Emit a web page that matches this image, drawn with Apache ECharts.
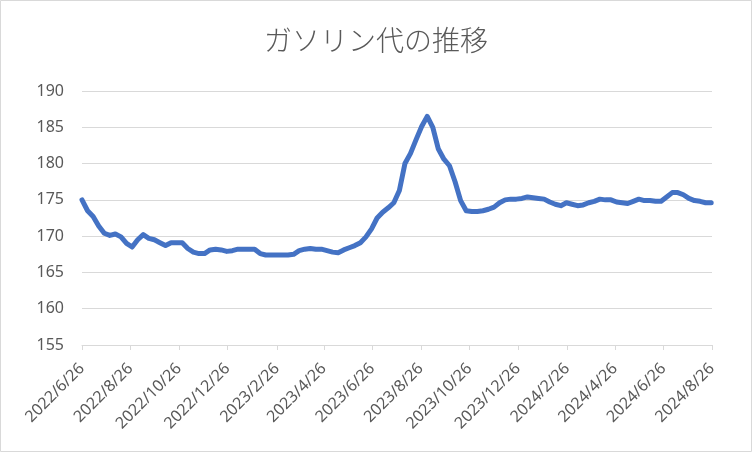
<!DOCTYPE html>
<html>
<head>
<meta charset="utf-8">
<script src="https://cdn.jsdelivr.net/npm/echarts@6/dist/echarts.min.js"></script>
<style>
html,body{margin:0;padding:0;background:#fff;}
#chart{width:752px;height:452px;}
</style>
</head>
<body>
<div id="chart"></div>
<script>
const titleText = "ガソリン代の推移";
const startDate = "2022/6/26";
const endDate = "2024/8/26";
const stepDays = 7;
const yTicks = [155, 160, 165, 170, 175, 180, 185, 190];
const prices = [
  175.0, 173.5, 172.7, 171.4, 170.4, 170.1, 170.3, 169.9, 169.0, 168.5,
  169.5, 170.2, 169.7, 169.5, 169.1, 168.7, 169.1, 169.1, 169.1, 168.3,
  167.8, 167.6, 167.6, 168.1, 168.2, 168.1, 167.9, 168.0, 168.2, 168.2,
  168.2, 168.2, 167.6, 167.4, 167.4, 167.4, 167.4, 167.4, 167.5, 168.0,
  168.2, 168.3, 168.2, 168.2, 168.0, 167.8, 167.7, 168.1, 168.4, 168.7,
  169.1, 169.9, 171.0, 172.5, 173.3, 173.9, 174.6, 176.3, 180.0, 181.4,
  183.3, 185.1, 186.5, 185.0, 182.0, 180.6, 179.7, 177.5, 174.9, 173.5,
  173.4, 173.4, 173.5, 173.7, 174.0, 174.6, 175.0, 175.1, 175.1, 175.2,
  175.4, 175.3, 175.2, 175.1, 174.7, 174.4, 174.2, 174.6, 174.4, 174.2,
  174.3, 174.6, 174.8, 175.1, 175.0, 175.0, 174.7, 174.6, 174.5, 174.8,
  175.1, 174.9, 174.9, 174.8, 174.8, 175.4, 176.0, 176.0, 175.7, 175.2,
  174.9, 174.8, 174.6, 174.6
];

function parseD(s){ const [y,m,d]=s.split('/').map(Number); return Date.UTC(y,m-1,d); }
function fmt(t){ const d=new Date(t); return d.getUTCFullYear()+'/'+(d.getUTCMonth()+1)+'/'+d.getUTCDate(); }

// daily category axis (date axis)
const days = [];
for (let t = parseD(startDate); t <= parseD(endDate); t += 86400000) days.push(fmt(t));

const [sy, sm] = startDate.split('/').map(Number);
function isMajor(idx, val){
  const [y,m,d] = val.split('/').map(Number);
  return d === 26 && ((y*12+m) - (sy*12+sm)) % 2 === 0;
}

const seriesData = prices.map((v,i)=>[i*stepDays, v]);

const chart = echarts.init(document.getElementById('chart'), null, {renderer:'canvas'});
chart.setOption({
  backgroundColor:'#fff',
  animation:false,
  title:{
    text:titleText, left:'center', top:21,
    textStyle:{fontFamily:'"Noto Sans CJK JP"', fontSize:28, fontWeight:300, color:'#595959'}
  },
  grid:{left:82, right:40, top:91, bottom:107, containLabel:false},
  xAxis:{
    type:'category', data:days, boundaryGap:false,
    axisLine:{lineStyle:{color:'#D9D9D9', width:1}},
    axisTick:{show:true, interval:isMajor, length:5, lineStyle:{color:'#D9D9D9'}},
    axisLabel:{interval:isMajor, rotate:45, margin:21, color:'#595959',
      fontFamily:'"Noto Sans", sans-serif', fontSize:16},
    splitLine:{show:false}
  },
  yAxis:{
    type:'value', min:yTicks[0], max:yTicks[yTicks.length-1], interval:5,
    axisLine:{show:false}, axisTick:{show:false},
    axisLabel:{color:'#595959', margin:18, fontFamily:'"Noto Sans", sans-serif', fontSize:16},
    splitLine:{lineStyle:{color:'#D9D9D9', width:1}}
  },
  series:[{
    type:'line', data:seriesData, showSymbol:false, symbol:'none',
    lineStyle:{color:'#4472C4', width:5, cap:'round', join:'round'},
    smooth:false
  }],
  graphic:[{type:'rect', shape:{x:0.5,y:0.5,width:751,height:451}, style:{fill:null, stroke:'#D9D9D9', lineWidth:1}, silent:true}]
});
</script>
</body>
</html>
